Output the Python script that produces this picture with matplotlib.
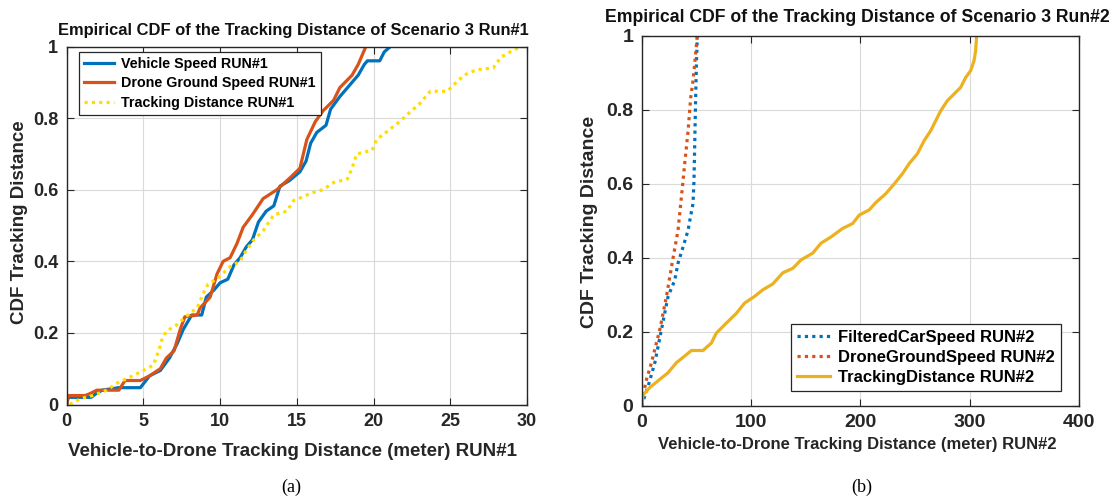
import matplotlib
matplotlib.use("Agg")
import matplotlib.pyplot as plt
from matplotlib.ticker import FuncFormatter

# ---------------- data ----------------
# Run #1 (left panel): x = distance (m), y = empirical CDF
veh1_x = [0.0, 0.1, 1.6, 1.9, 2.3, 3.4, 4.8, 5.4, 6.1, 6.7, 7.2, 7.6, 8.15, 8.8,
          9.1, 9.6, 10.0, 10.5, 10.9, 11.3, 11.7, 12.1, 12.5, 13.0, 13.5, 13.9,
          14.5, 15.2, 15.6, 15.9, 16.3, 16.9, 17.2, 17.8, 18.3, 18.7, 19.0, 19.4,
          19.6, 20.4, 20.7, 21.1]
veh1_y = [0.0, 0.02, 0.02, 0.03, 0.04, 0.047, 0.047, 0.08, 0.095, 0.13, 0.17, 0.21,
          0.25, 0.25, 0.30, 0.32, 0.34, 0.35, 0.39, 0.41, 0.44, 0.46, 0.51, 0.54,
          0.555, 0.61, 0.625, 0.65, 0.68, 0.73, 0.76, 0.78, 0.825, 0.86, 0.885,
          0.905, 0.92, 0.95, 0.96, 0.96, 0.985, 1.0]

drone1_x = [0.0, 0.1, 1.2, 1.5, 1.96, 3.4, 3.8, 4.8, 5.4, 6.1, 6.5, 7.0, 7.4, 7.7,
            8.5, 8.7, 9.35, 9.8, 10.2, 10.65, 11.1, 11.5, 12.1, 12.8, 13.7, 14.6,
            15.2, 15.65, 16.2, 16.7, 17.4, 17.8, 18.6, 19.0, 19.5]
drone1_y = [0.0, 0.025, 0.025, 0.03, 0.04, 0.04, 0.067, 0.067, 0.08, 0.10, 0.13, 0.15,
            0.21, 0.245, 0.25, 0.27, 0.30, 0.365, 0.40, 0.41, 0.45, 0.495, 0.53,
            0.575, 0.60, 0.635, 0.66, 0.74, 0.79, 0.82, 0.85, 0.885, 0.92, 0.95, 1.0]

track1_x = [0.2, 0.9, 1.7, 2.6, 3.3, 4.1, 5.0, 5.65, 6.0, 6.2, 6.5, 7.1, 7.5, 7.9,
            8.5, 8.9, 9.2, 9.9, 10.65, 11.3, 11.7, 12.2, 12.8, 13.5, 14.35, 14.8,
            15.4, 15.9, 16.7, 17.4, 18.3, 18.6, 18.9, 19.9, 20.2, 21.1, 21.7, 22.2,
            23.0, 23.7, 24.8, 25.4, 25.9, 26.7, 27.8, 28.3, 28.9, 29.6]
track1_y = [0.0, 0.016, 0.025, 0.04, 0.06, 0.076, 0.095, 0.11, 0.15, 0.18, 0.205, 0.22,
            0.235, 0.25, 0.27, 0.31, 0.335, 0.355, 0.385, 0.40, 0.43, 0.46, 0.485,
            0.53, 0.54, 0.57, 0.58, 0.59, 0.60, 0.62, 0.63, 0.66, 0.70, 0.71, 0.74,
            0.77, 0.79, 0.81, 0.84, 0.875, 0.875, 0.90, 0.92, 0.935, 0.94, 0.97,
            0.985, 1.0]

# Run #2 (right panel)
car2_x = [0.0, 6.1, 12.2, 18.2, 24.3, 30.4, 33.4, 38.0, 42.6, 44.7, 47.1, 48.0,
          48.9, 49.5, 50.2, 51.0]
car2_y = [0.0, 0.054, 0.117, 0.206, 0.296, 0.34, 0.386, 0.43, 0.475, 0.51, 0.547,
          0.61, 0.744, 0.834, 0.924, 1.0]

drone2_x = [0.0, 4.6, 9.1, 16.7, 22.8, 28.0, 33.4, 36.5, 39.5, 42.6, 45.0, 47.1,
            48.6, 51.0]
drone2_y = [0.01, 0.072, 0.117, 0.206, 0.296, 0.386, 0.475, 0.565, 0.655, 0.744,
            0.834, 0.879, 0.924, 1.0]

track2_x = [0.0, 1.5, 7.6, 16.7, 24.3, 31.9, 39.5, 45.6, 56.2, 63.8, 68.4, 77.5,
            86.6, 94.2, 103.3, 110.9, 120.1, 129.2, 138.3, 145.9, 156.5, 164.1,
            173.3, 183.9, 193.0, 199.1, 208.2, 214.3, 223.4, 231.0, 238.6, 244.7,
            252.3, 258.4, 264.4, 269.0, 273.6, 279.6, 285.7, 291.8, 296.4, 300.9,
            304.0, 305.5, 306.4]
track2_y = [0.0, 0.03, 0.05, 0.072, 0.09, 0.117, 0.135, 0.15, 0.15, 0.17, 0.197,
            0.224, 0.25, 0.278, 0.296, 0.314, 0.33, 0.36, 0.372, 0.395, 0.413,
            0.44, 0.457, 0.48, 0.493, 0.516, 0.53, 0.55, 0.574, 0.60, 0.628,
            0.655, 0.682, 0.717, 0.744, 0.771, 0.798, 0.825, 0.843, 0.861, 0.888,
            0.906, 0.933, 0.96, 1.0]

x1_ticks = [0, 5, 10, 15, 20, 25, 30]
x2_ticks = [0, 100, 200, 300, 400]
y_ticks = [0, 0.2, 0.4, 0.6, 0.8, 1]

# ---------------- styling ----------------
plt.rcParams['font.family'] = ['Liberation Sans', 'DejaVu Sans']
plt.rcParams['font.weight'] = 'bold'
BLUE, ORANGE, YELLOW, GOLD = '#0072BD', '#D95319', '#FFDD00', '#EDB120'
AX_COL = '#262626'

W, H = 1113, 500
fig = plt.figure(figsize=(W / 100, H / 100), dpi=100)


def fbox(l, t, r, b):
    return [l / W, 1 - b / H, (r - l) / W, (b - t) / H]


def style(ax, fs):
    for s in ax.spines.values():
        s.set_color(AX_COL)
        s.set_linewidth(1.0)
    ax.tick_params(direction='in', top=True, right=True, length=5, width=0.8,
                   color=AX_COL, labelsize=fs, labelcolor=AX_COL, pad=6)
    for lab in ax.get_xticklabels() + ax.get_yticklabels():
        lab.set_fontweight('bold')
    ax.grid(True, color='#DADADA', linewidth=0.8)
    ax.set_axisbelow(True)
    ax.yaxis.set_major_formatter(FuncFormatter(lambda v, p: '%g' % v))


def px(x, y):
    return (x / W, 1 - y / H)


# ---------------- left panel ----------------
L1, T1, R1, B1 = 66.7, 46.5, 527, 404.5
ax1 = fig.add_axes(fbox(L1, T1, R1, B1))
ax1.plot(veh1_x, veh1_y, color=BLUE, lw=2.3, label='Vehicle Speed RUN#1')
ax1.plot(drone1_x, drone1_y, color=ORANGE, lw=2.3, label='Drone Ground Speed RUN#1')
ax1.plot(track1_x, track1_y, color=YELLOW, lw=2.3, ls=(0, (1, 1.3)),
         label='Tracking Distance RUN#1')
ax1.set_xlim(0, 30)
ax1.set_ylim(0, 1)
ax1.set_xticks(x1_ticks)
ax1.set_yticks(y_ticks)
style(ax1, 13)
ax1.set_title('Empirical CDF of the Tracking Distance of Scenario 3 Run#1',
              fontsize=11.9, fontweight='bold', color='#111111', pad=0,
              x=(293 - L1) / (R1 - L1), y=1 + (T1 - 31) / (B1 - T1), va='center')
ax1.set_xlabel('Vehicle-to-Drone Tracking Distance (meter) RUN#1', fontsize=13.5,
               fontweight='bold', color=AX_COL)
ax1.xaxis.set_label_coords(*px(293, 452), transform=fig.transFigure)
ax1.xaxis.label.set_va('center')
ax1.set_ylabel('CDF Tracking Distance', fontsize=13.5, fontweight='bold', color=AX_COL)
ax1.yaxis.set_label_coords(*px(20, 222), transform=fig.transFigure)
ax1.yaxis.label.set_va('center')
leg1 = ax1.legend(loc='upper left', bbox_to_anchor=px(79, 52),
                  bbox_transform=fig.transFigure, borderaxespad=0,
                  prop={'size': 10.3, 'weight': 'bold'}, handlelength=2.1,
                  labelspacing=0.38, fancybox=False, framealpha=1,
                  edgecolor=AX_COL, borderpad=0.35, handletextpad=0.5)
leg1.get_frame().set_linewidth(0.9)

# ---------------- right panel ----------------
L2, T2, R2, B2 = 641.5, 36, 1079, 406
ax2 = fig.add_axes(fbox(L2, T2, R2, B2))
ax2.plot(car2_x, car2_y, color=BLUE, lw=2.3, ls=(0, (1, 1.3)),
         label='FilteredCarSpeed RUN#2')
ax2.plot(drone2_x, drone2_y, color=ORANGE, lw=2.3, ls=(0, (1, 1.3)),
         label='DroneGroundSpeed RUN#2')
ax2.plot(track2_x, track2_y, color=GOLD, lw=2.3, label='TrackingDistance RUN#2')
ax2.set_xlim(0, 400)
ax2.set_ylim(0, 1)
ax2.set_xticks(x2_ticks)
ax2.set_yticks(y_ticks)
style(ax2, 14)
ax2.set_title('Empirical CDF of the Tracking Distance of Scenario 3 Run#2',
              fontsize=12.7, fontweight='bold', color='#111111', pad=0,
              x=(857 - L2) / (R2 - L2), y=1 + (T2 - 17) / (B2 - T2), va='center')
ax2.set_xlabel('Vehicle-to-Drone Tracking Distance (meter) RUN#2', fontsize=12,
               fontweight='bold', color=AX_COL)
ax2.xaxis.set_label_coords(*px(857, 445), transform=fig.transFigure)
ax2.xaxis.label.set_va('center')
ax2.set_ylabel('CDF Tracking Distance', fontsize=14, fontweight='bold', color=AX_COL)
ax2.yaxis.set_label_coords(*px(590, 222), transform=fig.transFigure)
ax2.yaxis.label.set_va('center')
leg2 = ax2.legend(loc='upper left', bbox_to_anchor=px(791, 324),
                  bbox_transform=fig.transFigure, borderaxespad=0,
                  prop={'size': 12, 'weight': 'bold'}, handlelength=2.0,
                  labelspacing=0.3, fancybox=False, framealpha=1,
                  edgecolor=AX_COL, borderpad=0.35, handletextpad=0.5)
leg2.get_frame().set_linewidth(0.9)

# ---------------- captions ----------------
fig.text(*px(291, 487), '(a)', family=['Liberation Serif', 'DejaVu Serif'],
         fontweight='normal', fontsize=13, ha='center', va='center')
fig.text(*px(862, 487), '(b)', family=['Liberation Serif', 'DejaVu Serif'],
         fontweight='normal', fontsize=13, ha='center', va='center')

fig.savefig('out.png', dpi=100)
